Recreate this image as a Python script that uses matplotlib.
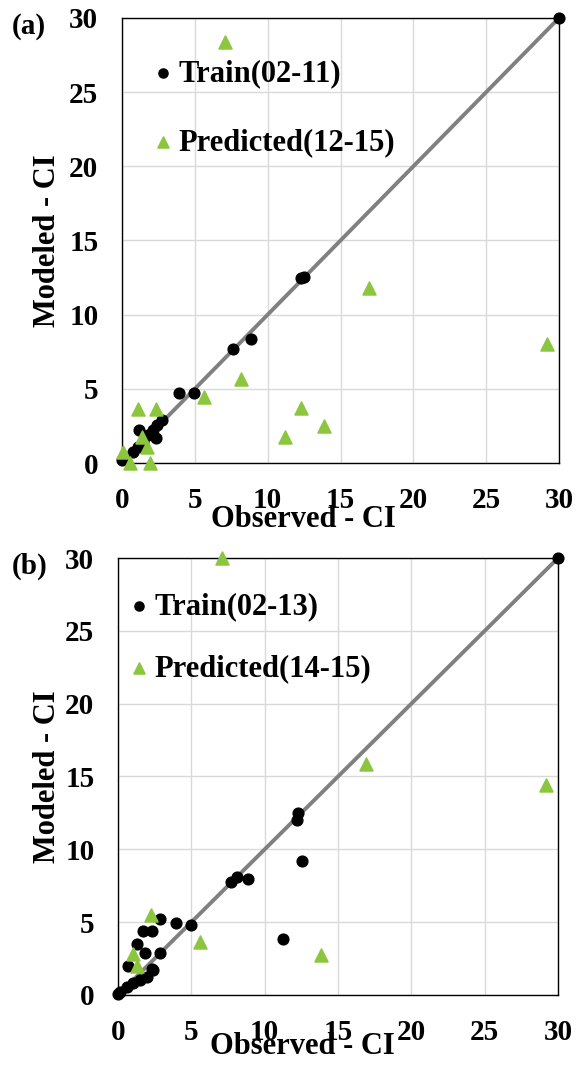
import numpy as np
import matplotlib
matplotlib.use('Agg')
import matplotlib.pyplot as plt

plt.rcParams['font.family'] = ['Liberation Serif', 'DejaVu Serif']
plt.rcParams['font.weight'] = 'bold'

# panel (a): training 2002-2011, predicted 2012-2015
a_train_x = [30, 12.3, 12.5, 7.6, 8.85, 3.9, 4.95, 1.15, 2.75, 2.4, 2.13, 1.78, 2.33, 1.44, 1.1, 0.75, 0.0]
a_train_y = [30, 12.45, 12.55, 7.7, 8.35, 4.7, 4.7, 2.2, 2.9, 2.56, 2.22, 1.89, 1.69, 1.42, 1.08, 0.74, 0.2]
a_pred_x = [7.05, 16.95, 29.2, 8.2, 5.65, 12.3, 13.9, 11.2, 1.1, 2.33, 1.37, 1.7, 0.07, 0.55, 1.9]
a_pred_y = [28.4, 11.8, 8.0, 5.65, 4.45, 3.7, 2.5, 1.75, 3.64, 3.64, 1.75, 1.08, 0.74, 0.0, 0.0]

# panel (b): training 2002-2013, predicted 2014-2015
b_train_x = [30, 12.27, 12.2, 12.55, 7.7, 8.1, 8.86, 11.25, 2.86, 3.95, 4.98, 1.7, 2.32, 1.3, 1.84,
             2.86, 0.68, 2.32, 2.4, 2.0, 1.5, 1.0, 0.6, 0.14, 0.0]
b_train_y = [30, 12.5, 12.0, 9.2, 7.75, 8.1, 7.96, 3.85, 5.2, 4.94, 4.8, 4.4, 4.4, 3.5, 2.9,
             2.9, 2.0, 1.8, 1.7, 1.25, 1.0, 0.8, 0.55, 0.2, 0.1]
b_pred_x = [7.1, 16.9, 29.2, 5.6, 13.85, 2.25, 1.0, 1.3]
b_pred_y = [30, 15.85, 14.4, 3.65, 2.75, 5.5, 2.8, 2.0]

ticks = [0, 5, 10, 15, 20, 25, 30]
green = '#8cc63f'
fs = 21
lfs = 22

fig = plt.figure(figsize=(5.76, 10.76), dpi=100)

panels = [
    dict(rect=[0.2118, 0.5697, 0.7587, 0.4136], tx=a_train_x, ty=a_train_y, px=a_pred_x, py=a_pred_y,
         labels=['Train(02-11)', 'Predicted(12-15)'], tag='(a)', tagy=0.975,
         leg=(0.01, 0.97), xl=(0.414, -0.094), yl=(-0.138, 0.5), sp=1.33),
    dict(rect=[0.2049, 0.0753, 0.7639, 0.4061], tx=b_train_x, ty=b_train_y, px=b_pred_x, py=b_pred_y,
         labels=['Train(02-13)', 'Predicted(14-15)'], tag='(b)', tagy=0.474,
         leg=(-0.035, 0.985), xl=(0.42, -0.085), yl=(-0.128, 0.5), sp=1.08),
]

for p in panels:
    ax = fig.add_axes(p['rect'])
    ax.set_xlim(0, 30)
    ax.set_ylim(0, 30)
    ax.set_xticks(ticks)
    ax.set_yticks(ticks)
    ax.grid(True, color='#d9d9d9', linewidth=1.0)
    ax.set_axisbelow(True)
    for s in ax.spines.values():
        s.set_color('black')
        s.set_linewidth(1.0)
    ax.tick_params(length=0, labelsize=fs, pad=17)
    for lab in ax.get_xticklabels() + ax.get_yticklabels():
        lab.set_fontweight('bold')

    ax.plot([0, 30], [0, 30], color='#808080', linewidth=2.8, zorder=2)
    ax.scatter(p['tx'], p['ty'], s=60, color='black', zorder=3, clip_on=False, label=p['labels'][0])
    ax.scatter(p['px'], p['py'], s=85, marker='^', color=green, edgecolor=green, linewidth=1.2,
               zorder=4, clip_on=False, label=p['labels'][1])

    ax.legend(loc='upper left', bbox_to_anchor=p['leg'], frameon=False,
              prop={'size': lfs, 'weight': 'bold'}, handlelength=0.6, handletextpad=0.2,
              labelspacing=p['sp'], markerscale=0.85)

    ax.set_xlabel('Observed - CI', fontsize=lfs, fontweight='bold')
    ax.set_ylabel('Modeled - CI', fontsize=lfs, fontweight='bold')
    ax.xaxis.set_label_coords(*p['xl'])
    ax.yaxis.set_label_coords(*p['yl'])

    fig.text(0.02, p['tagy'], p['tag'], fontsize=fs, fontweight='bold', va='center', ha='left')

fig.savefig('out.png', dpi=100)
